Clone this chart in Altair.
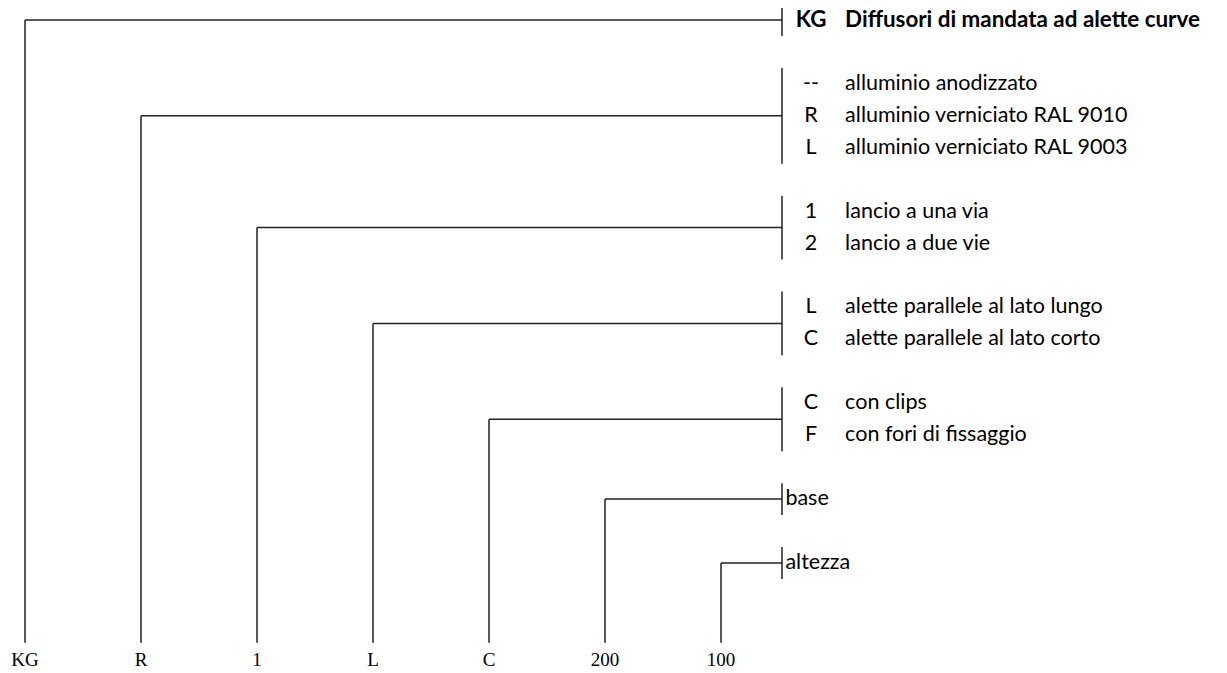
import altair as alt
import pandas as pd

# ---- data -------------------------------------------------------------
codes = ["KG", "R", "1", "L", "C", "200", "100"]

group_codes = [
    ["KG"],
    ["--", "R", "L"],
    ["1", "2"],
    ["L", "C"],
    ["C", "F"],
    [""],
    [""],
]
group_texts = [
    ["Diffusori di mandata ad alette curve"],
    ["alluminio anodizzato", "alluminio verniciato RAL 9010", "alluminio verniciato RAL 9003"],
    ["lancio a una via", "lancio a due vie"],
    ["alette parallele al lato lungo", "alette parallele al lato corto"],
    ["con clips", "con fori di fissaggio"],
    ["base"],
    ["altezza"],
]

# ---- layout helpers (column / row units) -----------------------------
BAR_COL = 6.526
CODE_COL = 6.776
DESC_COL = 7.07
PLAIN_COL = 6.555
BOTTOM_ROW = 19.5
LABEL_ROW = 20.05

W, H = 1211, 662
X0_PX, COL_PX = 25, 116.0
Y0_PX, ROW_PX = 20, 31.94
x_domain = [(8 - X0_PX) / COL_PX, (8 + W - X0_PX) / COL_PX]
y_domain = [(8 - Y0_PX) / ROW_PX, (8 + H - Y0_PX) / ROW_PX]

segs, items, bottoms = [], [], []
start = 0
for i, (gc, gt) in enumerate(zip(group_codes, group_texts)):
    n = len(gc)
    center = start + (n - 1) / 2
    segs.append(dict(x=i, x2=i, y=center, y2=BOTTOM_ROW))
    segs.append(dict(x=i, x2=BAR_COL, y=center, y2=center))
    segs.append(dict(x=BAR_COL, x2=BAR_COL, y=start - 0.5, y2=start + n - 0.5))
    for k, (c, t) in enumerate(zip(gc, gt)):
        row = start + k
        bold = "bold" if i == 0 else "normal"
        if c:
            items.append(dict(x=CODE_COL, y=row, label=c, align="center", weight=bold))
            items.append(dict(x=DESC_COL, y=row, label=t, align="left", weight=bold))
        else:
            items.append(dict(x=PLAIN_COL, y=row, label=t, align="left", weight=bold))
    bottoms.append(dict(x=i, y=LABEL_ROW, label=codes[i]))
    start += n + 1

seg_df = pd.DataFrame(segs)
item_df = pd.DataFrame(items)
bot_df = pd.DataFrame(bottoms)

xs = alt.Scale(domain=x_domain, nice=False, zero=False)
ys = alt.Scale(domain=y_domain, nice=False, zero=False, reverse=True)

rules = alt.Chart(seg_df).mark_rule(color="#222", strokeWidth=1.5).encode(
    x=alt.X("x:Q", scale=xs, axis=None),
    x2="x2:Q",
    y=alt.Y("y:Q", scale=ys, axis=None),
    y2="y2:Q",
)

def text_layer(df, align, weight):
    sub = df[(df["align"] == align) & (df["weight"] == weight)]
    return alt.Chart(sub).mark_text(
        align=align, baseline="middle", font="Lato",
        fontSize=22.4 if weight == "bold" else 21.5,
        fontWeight=weight, color="#000",
    ).encode(
        x=alt.X("x:Q", scale=xs, axis=None),
        y=alt.Y("y:Q", scale=ys, axis=None),
        text="label:N",
    )

layers = [rules]
for a in ["center", "left"]:
    for w in ["normal", "bold"]:
        if len(item_df[(item_df["align"] == a) & (item_df["weight"] == w)]):
            layers.append(text_layer(item_df, a, w))

bottom = alt.Chart(bot_df).mark_text(
    align="center", baseline="middle", font="Liberation Serif", fontSize=19, color="#000",
).encode(
    x=alt.X("x:Q", scale=xs, axis=None),
    y=alt.Y("y:Q", scale=ys, axis=None),
    text="label:N",
)
layers.append(bottom)

chart = alt.layer(*layers).properties(
    width=W, height=H, padding=0, autosize=alt.AutoSizeParams(type="none"),
).configure_view(stroke=None)

chart.save("out.html", embed_options={"renderer": "svg", "actions": False})
